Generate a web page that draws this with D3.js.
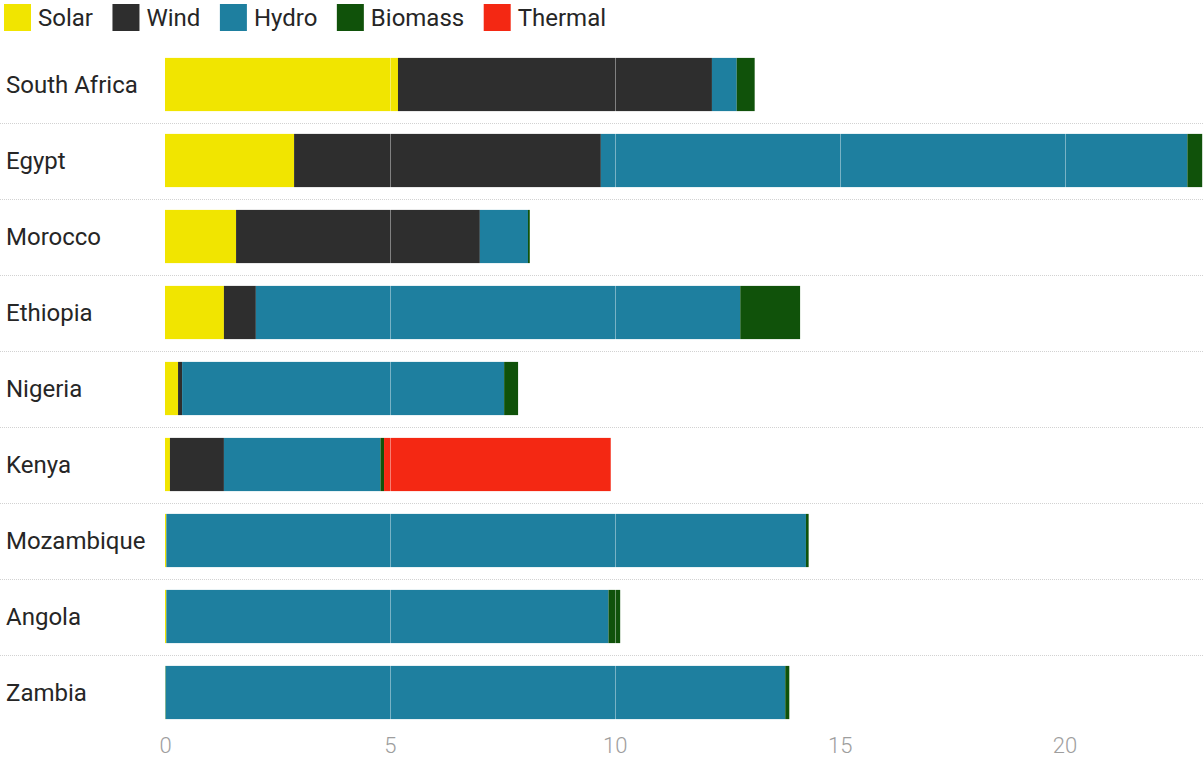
<!DOCTYPE html>
<html>
<head>
<meta charset="utf-8">
<script src="https://cdn.jsdelivr.net/npm/d3@7"></script>
<style>
  html, body { margin: 0; padding: 0; background: #fff; }
  svg { display: block; font-family: Roboto, "Noto Sans", sans-serif; }
</style>
</head>
<body>
<svg id="chart" width="1204" height="760"></svg>
<script>
const countries = ['South Africa', 'Egypt', 'Morocco', 'Ethiopia', 'Nigeria', 'Kenya', 'Mozambique', 'Angola', 'Zambia']
const sources = ['Solar', 'Wind', 'Hydro', 'Biomass', 'Thermal']
const colors = ['#f1e500', '#2e2e2e', '#1e7f9f', '#10520a', '#f42813']

// values per source, same order as countries
const solar   = [5.18, 2.87, 1.58, 1.31, 0.29, 0.11, 0.03, 0.03, 0.01]
const wind    = [6.98, 6.82, 5.42, 0.71, 0.09, 1.20, 0.00, 0.00, 0.00]
const hydro   = [0.55, 13.04, 1.07, 10.77, 7.16, 3.48, 14.22, 9.83, 13.78]
const biomass = [0.40, 0.33, 0.04, 1.33, 0.31, 0.08, 0.06, 0.26, 0.09]
const thermal = [0, 0, 0, 0, 0, 5.04, 0, 0, 0]
const xTicks = [0, 5, 10, 15, 20]

const rows = countries.map((c, i) => ({
  country: c,
  Solar: solar[i], Wind: wind[i], Hydro: hydro[i], Biomass: biomass[i], Thermal: thermal[i]
}))

const width = 1204
const height = 760
const svg = d3.select('#chart')

const x = d3.scaleLinear().domain([0, 23.1]).range([165, width])
const y = d3.scaleBand().domain(countries).range([46.5, 730.5]).paddingInner(0.3).paddingOuter(0.15)
const color = d3.scaleOrdinal(sources, colors)

const stack = d3.stack().keys(sources)(rows)

// dotted row separators
svg.append('g')
  .selectAll('line')
  .data(countries.slice(1))
  .join('line')
  .attr('x1', 0)
  .attr('x2', width)
  .attr('y1', d => Math.round(y(d) - y.step() * y.paddingInner() / 2) + 0.5)
  .attr('y2', d => Math.round(y(d) - y.step() * y.paddingInner() / 2) + 0.5)
  .attr('stroke', '#d2d2d2')
  .attr('stroke-dasharray', '1,1')

// bars
svg.append('g')
  .selectAll('g')
  .data(stack)
  .join('g')
  .attr('fill', d => color(d.key))
  .selectAll('rect')
  .data(d => d)
  .join('rect')
  .attr('x', d => x(d[0]))
  .attr('width', d => Math.max(0, x(d[1]) - x(d[0])))
  .attr('y', d => y(d.data.country))
  .attr('height', y.bandwidth())

// gridlines over the bars
svg.append('g')
  .selectAll('line')
  .data(xTicks.slice(1))
  .join('line')
  .attr('x1', d => Math.round(x(d)) + 0.5)
  .attr('x2', d => Math.round(x(d)) + 0.5)
  .attr('y1', y.range()[0])
  .attr('y2', y.range()[1] - 8)
  .attr('stroke', '#fff')
  .attr('stroke-opacity', 0.4)

// x axis
const xAxis = svg.append('g')
  .attr('transform', `translate(0, 737)`)
  .call(d3.axisBottom(x).tickValues(xTicks).tickSize(0).tickPadding(0))
xAxis.select('.domain').remove()
xAxis.selectAll('text')
  .attr('dy', '0.71em')
  .attr('font-family', 'Roboto, sans-serif')
  .attr('font-size', 22)
  .attr('font-weight', 300)
  .attr('fill', '#9e9e9e')

// country labels
svg.append('g')
  .selectAll('text')
  .data(countries)
  .join('text')
  .attr('x', 6)
  .attr('y', d => y(d) + y.bandwidth() / 2)
  .attr('dy', '0.35em')
  .attr('font-size', 24)
  .attr('fill', '#262626')
  .text(d => d)

// legend
const legend = svg.append('g').attr('transform', 'translate(4, 4)')
let lx = 0
sources.forEach(s => {
  const item = legend.append('g').attr('transform', `translate(${lx}, 0)`)
  item.append('rect')
    .attr('width', 27)
    .attr('height', 27)
    .attr('fill', color(s))
  const t = item.append('text')
    .attr('x', 34)
    .attr('y', 13.5)
    .attr('dy', '0.35em')
    .attr('font-size', 24)
    .attr('fill', '#262626')
    .text(s)
  lx += 34 + t.node().getComputedTextLength() + 19.5
})
</script>
</body>
</html>
